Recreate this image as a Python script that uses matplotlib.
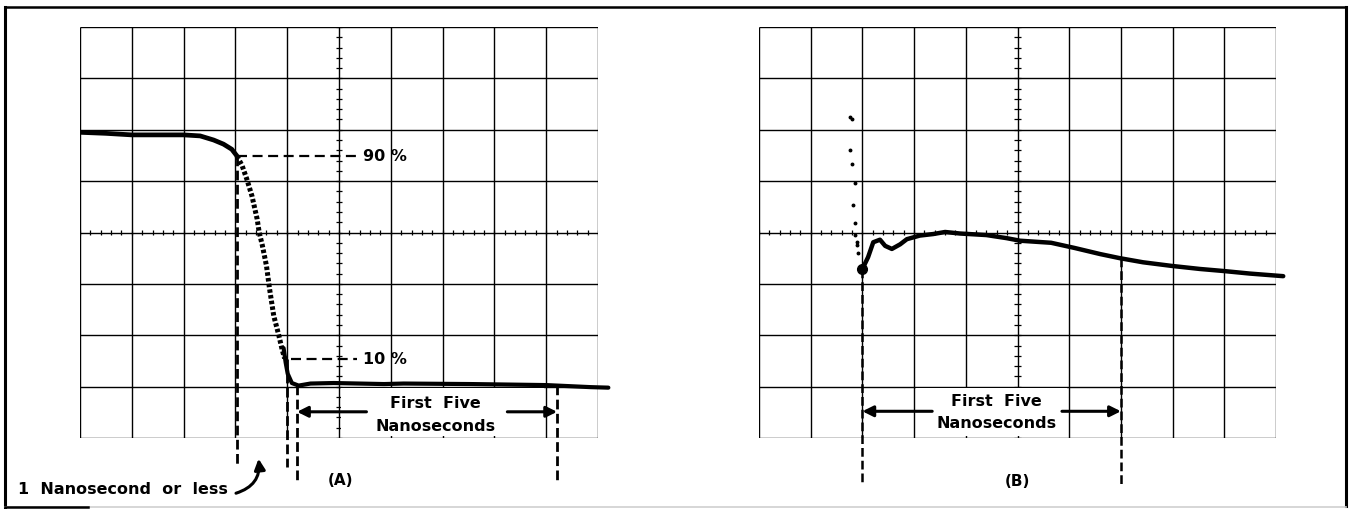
import numpy as np
import matplotlib
matplotlib.use("Agg")
import matplotlib.pyplot as plt
from matplotlib.lines import Line2D
from matplotlib.patches import FancyArrowPatch, Rectangle

# graticule size (divisions)
n_x_div = 10
n_y_div = 8

# --- trace (A): fall time, graticule divisions ---
a_head_x = [0.0, 0.5, 1.0, 1.5, 2.0, 2.32, 2.58, 2.77, 2.93, 3.03]
a_head_y = [5.95, 5.93, 5.90, 5.90, 5.90, 5.88, 5.80, 5.72, 5.62, 5.49]
a_fall_x = [3.03, 3.13, 3.22, 3.32, 3.42, 3.46, 3.52, 3.60, 3.66, 3.74, 3.84, 3.90, 3.95]
a_fall_y = [5.49, 5.30, 5.04, 4.71, 4.26, 4.00, 3.75, 3.35, 2.90, 2.38, 1.99, 1.73, 1.55]
a_tail_x = [3.93, 3.97, 4.01, 4.09, 4.22, 4.45, 4.90, 5.87, 6.25, 7.54, 9.00, 9.86, 10.2]
a_tail_y = [1.75, 1.47, 1.25, 1.07, 1.02, 1.06, 1.07, 1.05, 1.06, 1.05, 1.03, 0.99, 0.98]

# --- trace (B): settling, graticule divisions ---
b_dots_x = [1.76, 1.79, 1.76, 1.79, 1.86, 1.82, 1.86, 1.86, 1.89, 1.91, 1.89]
b_dots_y = [6.24, 6.21, 5.61, 5.33, 4.96, 4.54, 4.18, 3.96, 3.76, 3.60, 3.81]
b_x = [2.0, 2.11, 2.21, 2.34, 2.44, 2.57, 2.73, 2.86, 3.11, 3.37, 3.60, 3.89,
       4.40, 4.79, 5.05, 5.65, 6.10, 6.60, 6.98, 7.43, 7.98, 8.53, 8.99, 9.50, 10.14]
b_y = [3.29, 3.52, 3.81, 3.86, 3.74, 3.68, 3.77, 3.87, 3.94, 3.97, 4.01, 3.98,
       3.95, 3.89, 3.84, 3.80, 3.70, 3.58, 3.50, 3.42, 3.35, 3.29, 3.25, 3.20, 3.15]

# marker levels / times (divisions)
a_t90, a_v90 = 3.03, 5.49
a_t10, a_v10 = 4.00, 1.54
a_start, a_end = 4.19, 9.21
b_start, b_end = 2.0, 7.0

W, H = 1352, 510
FONT = dict(family="DejaVu Sans", fontweight="bold", color="black")


def graticule(ax, blank):
    ax.set_xlim(0, n_x_div)
    ax.set_ylim(0, n_y_div)
    ax.set_axis_off()
    ax.vlines(range(n_x_div + 1), 0, n_y_div, color="black", lw=1.0, zorder=1)
    ax.hlines(range(n_y_div + 1), 0, n_x_div, color="black", lw=1.0, zorder=1)
    cx, cy = n_x_div / 2, n_y_div / 2
    ax.vlines(np.arange(0, n_x_div + 0.01, 0.2), cy - 0.05, cy + 0.05,
              color="black", lw=0.9, zorder=1)
    ax.hlines(np.arange(0, n_y_div + 0.01, 0.2), cx - 0.06, cx + 0.06,
              color="black", lw=0.9, zorder=1)
    # label area cleared of grid lines
    x0, x1 = blank
    ax.add_patch(Rectangle((x0, 0.03), x1 - x0, 0.94, facecolor="white",
                           edgecolor="none", zorder=1.5))


def vdash(ax, x, y0, y1, lw=2.0):
    ax.plot([x, x], [y0, y1], color="black", lw=lw,
            linestyle=(0, (3.5, 1.6)), clip_on=False, zorder=3)


def hdash(ax, y, x0, x1):
    ax.plot([x0, x1], [y, y], color="black", lw=1.6,
            linestyle=(0, (4.5, 2.5)), clip_on=False, zorder=3)


def span_arrows(ax, y, x0, x1, s0, s1):
    for a, b in ((s0, x0), (s1, x1)):
        ax.annotate("", xy=(b, y), xytext=(a, y), annotation_clip=False,
                    arrowprops=dict(arrowstyle="-|>", color="black", lw=2.2,
                                    mutation_scale=16, shrinkA=0, shrinkB=0))


fig = plt.figure(figsize=(W / 100, H / 100), dpi=100)

ax_a = fig.add_axes([80 / W, (H - 439) / H, 518 / W, 411 / H])
ax_b = fig.add_axes([759 / W, (H - 439) / H, 517 / W, 411 / H])
graticule(ax_a, (5.04, 8.96))
graticule(ax_b, (3.04, 5.96))

# --- (A) ---
ax_a.plot(a_head_x, a_head_y, color="black", lw=3.4, solid_capstyle="round")
ax_a.plot(a_fall_x, a_fall_y, color="black", lw=3.6, linestyle=(0, (0.7, 0.45)))
ax_a.plot(a_tail_x, a_tail_y, color="black", lw=3.0, solid_capstyle="round",
          clip_on=False)

vdash(ax_a, a_t90, a_v90, -0.51)
vdash(ax_a, a_t10, a_v10, -0.56)
vdash(ax_a, a_start, 1.03, -0.89)
vdash(ax_a, a_end, 1.03, -0.86)
hdash(ax_a, a_v90, a_t90, 5.35)
hdash(ax_a, a_v10, a_t10 + 0.07, 5.35)
ax_a.text(5.47, a_v90, "90 %", ha="left", va="center", fontsize=11.5, **FONT)
ax_a.text(5.47, a_v10, "10 %", ha="left", va="center", fontsize=11.5, **FONT)

span_arrows(ax_a, 0.51, a_start, a_end, 5.53, 8.25)
ax_a.text(6.87, 0.70, "First  Five", ha="center", va="center", fontsize=11.5, **FONT)
ax_a.text(6.87, 0.24, "Nanoseconds", ha="center", va="center", fontsize=11.5, **FONT)
ax_a.text(5.03, -0.80, "(A)", ha="center", va="center", fontsize=11, **FONT)

ax_a.text(-1.2, -1.07, "1  Nanosecond  or  less", ha="left", va="baseline",
          fontsize=11.5, clip_on=False, **FONT)
ax_a.add_patch(FancyArrowPatch((2.96, -1.09), (3.44, -0.35),
                               connectionstyle="arc3,rad=0.45",
                               arrowstyle="-|>", mutation_scale=16, lw=2.2,
                               color="black", clip_on=False))

# --- (B) ---
ax_b.plot(b_dots_x, b_dots_y, "o", color="black", markersize=1.8)
ax_b.plot(b_x, b_y, color="black", lw=3.2, solid_capstyle="round", clip_on=False)
ax_b.plot([b_x[0]], [b_y[0]], "o", color="black", markersize=7)

vdash(ax_b, b_start, b_y[0], -0.86, lw=1.8)
vdash(ax_b, b_end, 3.50, -0.93, lw=1.8)
span_arrows(ax_b, 0.52, b_start, b_end, 3.35, 5.86)
ax_b.text(4.6, 0.73, "First  Five", ha="center", va="center", fontsize=11.5, **FONT)
ax_b.text(4.6, 0.31, "Nanoseconds", ha="center", va="center", fontsize=11.5, **FONT)
ax_b.text(5.0, -0.83, "(B)", ha="center", va="center", fontsize=11, **FONT)

# --- outer frame ---
def px_line(xs, ys, **kw):
    fig.add_artist(Line2D([x / W for x in xs], [1 - y / H for y in ys], **kw))

px_line([5, 1346], [8, 8], color="black", lw=1.8)
px_line([5, 5], [8, 508], color="black", lw=2.2)
px_line([1346, 1346], [8, 507], color="black", lw=2.2)
px_line([5, 1346], [508, 508], color="#cfcfcf", lw=1.2)
px_line([5, 88], [508, 508], color="black", lw=1.8)

fig.savefig("out.png", dpi=100)
